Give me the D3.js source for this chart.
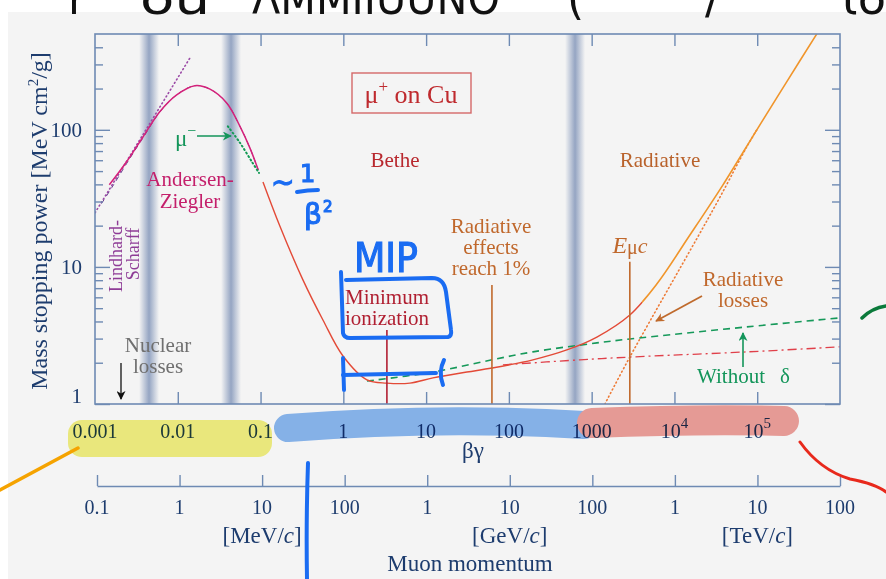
<!DOCTYPE html>
<html>
<head>
<meta charset="utf-8">
<script src="https://cdn.jsdelivr.net/npm/d3@7"></script>
<style>
  html, body { margin: 0; padding: 0; background: #fff; }
  svg { display: block; }
  text { font-family: "Liberation Serif", "Times New Roman", serif; }
</style>
</head>
<body>
<div id="chart"></div>
<script>
// --- data (mu+ on Cu, stopping power vs beta*gamma) ---
// total stopping power: Bethe part then radiative part
const bgBethe   = [0.107, 0.171, 0.325, 0.567, 0.99, 1.93, 3.36, 6.37, 12.1, 31.1, 62.4, 195, 501, 1156, 2890]
const dedxBethe = [41.7, 19.9, 8.04, 4.10, 2.24, 1.50, 1.42, 1.42, 1.55, 1.71, 1.83, 2.10, 2.48, 3.08, 4.46]
const bgTotal   = [2890, 6120, 15300, 38400, 98900, 227000, 525000]
const dedxTotal = [4.46, 7.5, 17.0, 39.5, 100, 224, 501]
// Andersen-Ziegler (low energy)
const bgAZ   = [0.00149, 0.00242, 0.00383, 0.00609, 0.0097, 0.0161, 0.0245, 0.039, 0.0564, 0.0745, 0.0938]
const dedxAZ = [39.7, 58.7, 89.4, 136, 180, 210, 198, 157, 106, 73.5, 51]
// dashed fit over the Andersen-Ziegler curve
const bgAZfit   = [0.0012, 0.0016, 0.00242, 0.00383, 0.00609, 0.0097, 0.0161, 0.0245, 0.039, 0.0564, 0.0745, 0.0938]
const dedxAZfit = [29, 38, 57, 88, 135, 180, 210, 198, 157, 106, 73.5, 51]
// mu- (Barkas)
const bgMuMinus   = [0.0403, 0.0564, 0.0787, 0.0957]
const dedxMuMinus = [106, 80.4, 58.4, 48.5]
// Lindhard-Scharff
const bgLS   = [0.001, 0.0141]
const dedxLS = [24.8, 336]
// without delta rays
const bgNoDelta   = [1.93, 12.1, 62.4, 195, 1156, 2890, 74800, 1e6]
const dedxNoDelta = [1.47, 1.71, 2.10, 2.40, 2.79, 2.98, 3.65, 4.25]
// ionization only (dash-dot)
const bgIon   = [84.7, 720, 2890, 74800, 1e6]
const dedxIon = [1.93, 2.10, 2.20, 2.40, 2.61]
// radiative losses (dotted)
const bgRad   = [1445, 2890, 32500, 74800, 98900]
const dedxRad = [1, 2.2, 29.3, 75.2, 100]
// vertical markers: [beta*gamma, top value]
const markMinIon = [3.36, 3.47]
const markRad1   = [62.4, 7.39]
const markEmuc   = [2890, 10.9]
// shaded boundaries
const bandBG = [0.0045, 0.044, 630]

// ticks
const bgTicks = [1e-3, 1e-2, 1e-1, 1, 10, 100, 1000, 1e4, 1e5, 1e6]
const bgTickLabels = ['0.001', '0.01', '0.1', '1', '10', '100', '1000', '10|4', '10|5', '']
const yMajor = [1, 10, 100]
const yMajorLabels = ['1', '10', '100']
const pTicks = [0.1, 1, 10, 100, 1e3, 1e4, 1e5, 1e6, 1e7, 1e8]   // MeV/c
const pTickLabels = ['0.1', '1', '10', '100', '1', '10', '100', '1', '10', '100']

const W = 886
const H = 579
const axisColor = '#6e8ab3'
const labelColor = '#1d3c6e'

const svg = d3.select('#chart').append('svg').attr('width', W).attr('height', H)

// page background
svg.append('rect').attr('x', 8).attr('y', 12).attr('width', W - 8).attr('height', H - 12).attr('fill', '#f4f4f4')

const x = d3.scaleLog().domain([1e-3, 1e6]).range([95, 840])
const y = d3.scaleLog().domain([1, 500]).range([404, 34])
const p = d3.scaleLog().domain([0.1, 1e8]).range([97, 840])

const defs = svg.append('defs')
const grad = defs.append('linearGradient').attr('id', 'band').attr('x1', '0%').attr('x2', '100%')
grad.append('stop').attr('offset', '0%').attr('stop-color', '#8497ba').attr('stop-opacity', 0)
grad.append('stop').attr('offset', '50%').attr('stop-color', '#8497ba').attr('stop-opacity', 0.85)
grad.append('stop').attr('offset', '100%').attr('stop-color', '#8497ba').attr('stop-opacity', 0)
defs.append('clipPath').attr('id', 'plot').append('rect')
  .attr('x', 95).attr('y', 34).attr('width', 745).attr('height', 370)
// red / orange split of the total curve
const xSplit = 642
defs.append('clipPath').attr('id', 'lowE').append('rect')
  .attr('x', 95).attr('y', 34).attr('width', xSplit - 95).attr('height', 370)
defs.append('clipPath').attr('id', 'highE').append('rect')
  .attr('x', xSplit).attr('y', 34).attr('width', 840 - xSplit).attr('height', 370)

function marker (id, color) {
  defs.append('marker').attr('id', id)
    .attr('viewBox', '0 0 10 10').attr('refX', 9).attr('refY', 5)
    .attr('markerWidth', 11).attr('markerHeight', 9).attr('markerUnits', 'userSpaceOnUse')
    .attr('orient', 'auto')
    .append('path').attr('d', 'M0,0L10,5L0,10L3,5z').attr('fill', color)
}
marker('arrGreen', '#13955a')
marker('arrBlack', '#111')
marker('arrOrange', '#bf6a2c')

// shaded bands
svg.append('g').selectAll('rect').data(bandBG).join('rect')
  .attr('x', d => x(d) - 10).attr('y', 34).attr('width', 20).attr('height', 370)
  .attr('fill', 'url(#band)')

// curves
const line = d3.line().x(d => x(d[0])).y(d => y(d[1])).curve(d3.curveCatmullRom.alpha(0.5))
const plot = svg.append('g').attr('clip-path', 'url(#plot)')

function curve (bg, v, color, width, dash, clip) {
  plot.append('path').attr('d', line(d3.zip(bg, v)))
    .attr('fill', 'none').attr('stroke', color).attr('stroke-width', width)
    .attr('stroke-dasharray', dash || null).attr('stroke-linecap', dash === '1 3' ? 'round' : 'butt')
    .attr('clip-path', clip ? 'url(#' + clip + ')' : null)
}
curve(bgLS, dedxLS, '#9b4aa6', 1.6, '1 3')
curve(bgAZfit, dedxAZfit, '#6a3d8e', 1.0, '5 4')
curve(bgAZ, dedxAZ, '#d4217a', 1.5)
curve(bgMuMinus, dedxMuMinus, '#139a55', 2, '1 3')
curve(bgRad, dedxRad, '#ee7a35', 1.6, '1 3')
curve(bgIon, dedxIon, '#e0404a', 1.3, '9 4 2 4')
curve(bgNoDelta, dedxNoDelta, '#16995a', 1.6, '7 5')
const bgAll = bgBethe.concat(bgTotal.slice(1))
const dedxAll = dedxBethe.concat(dedxTotal.slice(1))
curve(bgAll, dedxAll, '#e34a37', 1.4, null, 'lowE')
curve(bgAll, dedxAll, '#f0952b', 1.6, null, 'highE')

// vertical marker lines
function vmark (m, color) {
  svg.append('line').attr('x1', x(m[0])).attr('x2', x(m[0]))
    .attr('y1', y(m[1])).attr('y2', 404).attr('stroke', color).attr('stroke-width', 1.6)
}
vmark(markMinIon, '#b21f33')
vmark(markRad1, '#c0692c')
vmark(markEmuc, '#c0692c')

// axes
function styleAxis (g) {
  g.select('.domain').remove()
  g.selectAll('.tick line').attr('stroke', axisColor).attr('stroke-width', 1.4)
  g.selectAll('.tick text').remove()
}
const yMinor = []
yMajor.forEach(d => { for (let k = 2; k <= 9; k++) if (d * k < 500) yMinor.push(d * k) })
const xInner = bgTicks.filter(d => d > 1e-3 && d < 1e6)

svg.append('g').attr('transform', 'translate(95,0)').call(d3.axisRight(y).tickValues(yMajor).tickSize(15)).call(styleAxis)
svg.append('g').attr('transform', 'translate(95,0)').call(d3.axisRight(y).tickValues(yMinor).tickSize(8)).call(styleAxis)
svg.append('g').attr('transform', 'translate(840,0)').call(d3.axisLeft(y).tickValues(yMajor).tickSize(15)).call(styleAxis)
svg.append('g').attr('transform', 'translate(840,0)').call(d3.axisLeft(y).tickValues(yMinor).tickSize(8)).call(styleAxis)
svg.append('g').attr('transform', 'translate(0,34)').call(d3.axisBottom(x).tickValues(xInner).tickSize(12)).call(styleAxis)
svg.append('g').attr('transform', 'translate(0,404)').call(d3.axisTop(x).tickValues(xInner).tickSize(12)).call(styleAxis)

svg.append('rect').attr('x', 95).attr('y', 34).attr('width', 745).attr('height', 370)
  .attr('fill', 'none').attr('stroke', axisColor).attr('stroke-width', 1.6)

// y tick labels
svg.append('g').selectAll('text').data(yMajor).join('text')
  .attr('x', 82).attr('y', d => d === 1 ? y(d) - 1 : y(d) + 7)
  .attr('text-anchor', 'end').attr('font-size', 21).attr('fill', labelColor)
  .text((d, i) => yMajorLabels[i])

svg.append('text').attr('transform', 'translate(47,221) rotate(-90)')
  .attr('text-anchor', 'middle').attr('font-size', 24).attr('fill', labelColor)
  .text('Mass stopping power [MeV cm')
  .call(t => t.append('tspan').attr('dy', -9).attr('font-size', 15).text('2'))
  .call(t => t.append('tspan').attr('dy', 9).text('/g]'))

// beta*gamma labels
bgTicks.forEach((d, i) => {
  const lab = bgTickLabels[i]
  if (!lab) return
  const t = svg.append('text').attr('x', x(d)).attr('y', 438)
    .attr('text-anchor', 'middle').attr('font-size', 20).attr('fill', labelColor)
  if (lab.includes('|')) {
    const parts = lab.split('|')
    t.text(parts[0])
    t.append('tspan').attr('dy', -10).attr('font-size', 15).text(parts[1])
  } else {
    t.text(lab)
  }
})
svg.append('text').attr('x', 473).attr('y', 458).attr('text-anchor', 'middle')
  .attr('font-size', 23).attr('fill', labelColor).text('βγ')

// momentum axis
svg.append('g').attr('transform', 'translate(0,486)')
  .call(d3.axisTop(p).tickValues(pTicks).tickSize(11).tickSizeOuter(0).tickFormat(''))
  .call(g => g.select('.domain').attr('stroke', axisColor).attr('stroke-width', 1.4))
  .call(g => g.selectAll('.tick line').attr('stroke', axisColor).attr('stroke-width', 1.4))
svg.append('g').selectAll('text').data(pTicks).join('text')
  .attr('x', d => p(d)).attr('y', 514).attr('text-anchor', 'middle')
  .attr('font-size', 20).attr('fill', labelColor)
  .text((d, i) => pTickLabels[i])

function unitLabel (cx, unit) {
  const t = svg.append('text').attr('x', cx).attr('y', 543).attr('text-anchor', 'middle')
    .attr('font-size', 23).attr('fill', labelColor).text('[' + unit + '/')
  t.append('tspan').attr('font-style', 'italic').text('c')
  t.append('tspan').text(']')
}
unitLabel(p(10), 'MeV')
unitLabel(p(1e4), 'GeV')
unitLabel(p(1e7), 'TeV')
svg.append('text').attr('x', 470).attr('y', 571).attr('text-anchor', 'middle')
  .attr('font-size', 23).attr('fill', labelColor).text('Muon momentum')

// annotations
function label (cx, cy, lines, color, size, lh) {
  const t = svg.append('text').attr('text-anchor', 'middle').attr('font-size', size || 21).attr('fill', color)
  lines.forEach((s, i) => t.append('tspan').attr('x', cx).attr('y', cy + i * (lh || 21)).text(s))
  return t
}
svg.append('rect').attr('x', 352).attr('y', 73).attr('width', 119).attr('height', 40)
  .attr('fill', 'none').attr('stroke', '#d46868').attr('stroke-width', 1.4)
svg.append('text').attr('x', 411).attr('y', 103).attr('text-anchor', 'middle')
  .attr('font-size', 26).attr('fill', '#bf2a2e')
  .text('μ')
  .call(t => t.append('tspan').attr('dy', -11).attr('font-size', 17).text('+'))
  .call(t => t.append('tspan').attr('dy', 11).text(' on Cu'))

label(395, 167, ['Bethe'], '#b8282e')
label(660, 167, ['Radiative'], '#b9622b')
label(190, 186, ['Andersen-', 'Ziegler'], '#c41f6b', 21, 22)
label(158, 352, ['Nuclear', 'losses'], '#6f6f6f', 21, 21)
label(387, 304, ['Minimum', 'ionization'], '#b01f31', 21, 21)
label(491, 233, ['Radiative', 'effects', 'reach 1%'], '#c0682c', 21, 21)
label(743, 286, ['Radiative', 'losses'], '#c0682c', 21, 21)

svg.append('text').attr('transform', 'translate(122,256) rotate(-90)')
  .attr('text-anchor', 'middle').attr('font-size', 18).attr('fill', '#8e3c96').text('Lindhard-')
svg.append('text').attr('transform', 'translate(139,254) rotate(-90)')
  .attr('text-anchor', 'middle').attr('font-size', 18).attr('fill', '#8e3c96').text('Scharff')

svg.append('text').attr('x', 630).attr('y', 253).attr('text-anchor', 'middle')
  .attr('font-size', 24).attr('fill', '#c0682c')
  .call(t => t.append('tspan').attr('font-style', 'italic').text('E'))
  .call(t => t.append('tspan').attr('font-size', 20).attr('dy', 1).text('μ'))
  .call(t => t.append('tspan').attr('font-size', 22).attr('dy', -1).attr('font-style', 'italic').text('c'))

svg.append('text').attr('x', 175).attr('y', 146).attr('font-size', 23).attr('fill', '#13955a')
  .text('μ').call(t => t.append('tspan').attr('dy', -10).attr('font-size', 16).text('−'))
svg.append('line').attr('x1', 197).attr('y1', 136).attr('x2', 231).attr('y2', 136)
  .attr('stroke', '#13955a').attr('stroke-width', 1.6).attr('marker-end', 'url(#arrGreen)')

svg.append('text').attr('x', 697).attr('y', 383).attr('font-size', 21).attr('fill', '#13955a').text('Without')
svg.append('text').attr('x', 780).attr('y', 383).attr('font-size', 21).attr('fill', '#13955a').text('δ')
svg.append('line').attr('x1', 743).attr('y1', 367).attr('x2', 743).attr('y2', 333)
  .attr('stroke', '#13955a').attr('stroke-width', 1.6).attr('marker-end', 'url(#arrGreen)')

svg.append('line').attr('x1', 121).attr('y1', 363).attr('x2', 121).attr('y2', 399)
  .attr('stroke', '#111').attr('stroke-width', 1.3).attr('marker-end', 'url(#arrBlack)')
svg.append('line').attr('x1', 702).attr('y1', 296).attr('x2', 656).attr('y2', 321)
  .attr('stroke', '#bf6a2c').attr('stroke-width', 1.8).attr('marker-end', 'url(#arrOrange)')

// --- hand-drawn notes on top ---
const hl = svg.append('g').style('mix-blend-mode', 'multiply')
hl.append('rect').attr('x', 68).attr('y', 420).attr('width', 204).attr('height', 37).attr('rx', 14)
  .attr('fill', '#f4f282')
hl.append('path').attr('d', 'M288,428 Q440,416 584,425')
  .attr('fill', 'none').attr('stroke', '#8bb9f2').attr('stroke-width', 28).attr('stroke-linecap', 'round')
hl.append('path').attr('d', 'M592,423 Q700,419 784,421')
  .attr('fill', 'none').attr('stroke', '#f0a19c').attr('stroke-width', 30).attr('stroke-linecap', 'round')

const blue = '#1a6cf2'
function stroke (d, color, w) {
  svg.append('path').attr('d', d).attr('fill', 'none').attr('stroke', color)
    .attr('stroke-width', w || 4).attr('stroke-linecap', 'round').attr('stroke-linejoin', 'round')
}
stroke('M341,272 L343,333 Q344,338 350,338 L448,337 Q452,336 451,330 L446,292 Q444,278 432,278 L346,280', blue)
stroke('M343,358 L344,390', blue)
stroke('M343,375 L436,373', blue)
stroke('M444,360 Q438,372 443,385', blue)
stroke('M297,192 Q308,190 318,190', blue)
stroke('M308,463 Q306,520 307,579', blue, 4)
stroke('M78,448 L0,490', '#f5a300', 3.5)
stroke('M800,442 Q820,470 850,479 Q876,484 886,492', '#e8291c', 3)
stroke('M862,318 Q872,308 886,306', '#0b7a3b', 3.5)

function hand (tx, ty, s, size, color, len, sw) {
  const t = svg.append('text').attr('x', tx).attr('y', ty).attr('font-size', size)
    .attr('fill', color).attr('stroke', color).attr('stroke-width', sw === undefined ? 1.2 : sw)
    .style('font-family', '"DejaVu Sans", sans-serif').text(s)
  if (len) t.attr('textLength', len).attr('lengthAdjust', 'spacingAndGlyphs')
}
hand(271, 192, '~', 28, blue)
hand(300, 182, '1', 24, blue)
hand(304, 224, 'β', 28, blue)
hand(323, 212, '2', 15, blue)
hand(354, 272, 'MIP', 40, blue, 64)

// cropped handwriting along the top edge
hand(68, 14, 'r', 44, '#111', null, 0)
hand(140, 14, 'ou', 44, '#111', 70, 0)
hand(252, 14, 'ΛMMIIUUNO', 44, '#111', 248, 0)
hand(567, 14, '(', 44, '#111', null, 0)
hand(705, 14, '/', 44, '#111', null, 0)
hand(842, 14, 'ιo', 44, '#111', 44, 0)
</script>
</body>
</html>
